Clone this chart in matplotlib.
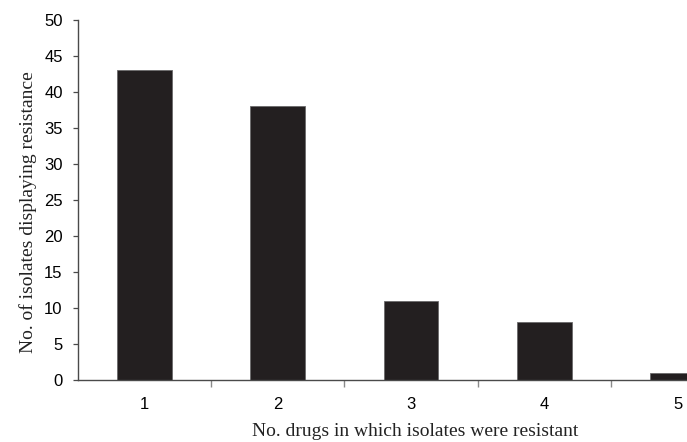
"""Bar chart: number of isolates by number of drugs they resist."""

import matplotlib

matplotlib.use("Agg")
import matplotlib.pyplot as plt
from matplotlib.ticker import FixedLocator, MultipleLocator

# data
categories = ["1", "2", "3", "4", "5"]
counts = [43, 38, 11, 8, 1]

W, H, DPI = 687, 442, 100
fig = plt.figure(figsize=(W / DPI, H / DPI), dpi=DPI)

# axes runs past the right edge, like the cropped original
left_px, right_px = 77.7, 744.5
top_px, zero_px = 20.0, 380.0
ax = fig.add_axes([
    left_px / W,
    (H - zero_px) / H,
    (right_px - left_px) / W,
    (zero_px - top_px) / H,
])

x = list(range(1, len(categories) + 1))
ax.bar(x, counts, width=0.41, color="#231f20", edgecolor="#6a6a6a", linewidth=0.6)

ax.set_xlim(0.5, len(categories) + 0.5)
ax.set_ylim(0, 50)
ax.yaxis.set_major_locator(MultipleLocator(5))
ax.set_xticks(x)
ax.set_xticklabels(categories)
ax.xaxis.set_minor_locator(FixedLocator([i + 0.5 for i in x[:-1]]))

for side in ("top", "right"):
    ax.spines[side].set_visible(False)
for side in ("left", "bottom"):
    ax.spines[side].set_color("#4a4a4a")
    ax.spines[side].set_linewidth(1.0)

tick_font = {"family": "Liberation Sans", "size": 12}
ax.tick_params(axis="y", direction="out", length=3.8, width=0.9, color="#4a4a4a",
               pad=7.0, labelsize=tick_font["size"], labelcolor="#000000")
ax.tick_params(axis="x", which="major", length=0, pad=12,
               labelsize=tick_font["size"], labelcolor="#000000")
ax.tick_params(axis="x", which="minor", direction="out", length=4.8, width=1.0,
               color="#8a8a8a")
for lab in ax.get_xticklabels() + ax.get_yticklabels():
    lab.set_fontfamily(tick_font["family"])

label_font = {"family": "Liberation Serif", "size": 14, "color": "#222222"}
ax.set_xlabel("No. drugs in which isolates were resistant", fontdict=label_font)
ax.set_ylabel("No. of isolates displaying resistance", fontdict=label_font)
ax.xaxis.set_label_coords((415 - left_px) / (right_px - left_px),
                          (zero_px - 432) / (zero_px - top_px))
ax.xaxis.label.set_va("center")
ax.yaxis.set_label_coords((28 - left_px) / (right_px - left_px),
                          (zero_px - 212) / (zero_px - top_px))
ax.yaxis.label.set_va("center")

fig.savefig("out.png", dpi=DPI)
